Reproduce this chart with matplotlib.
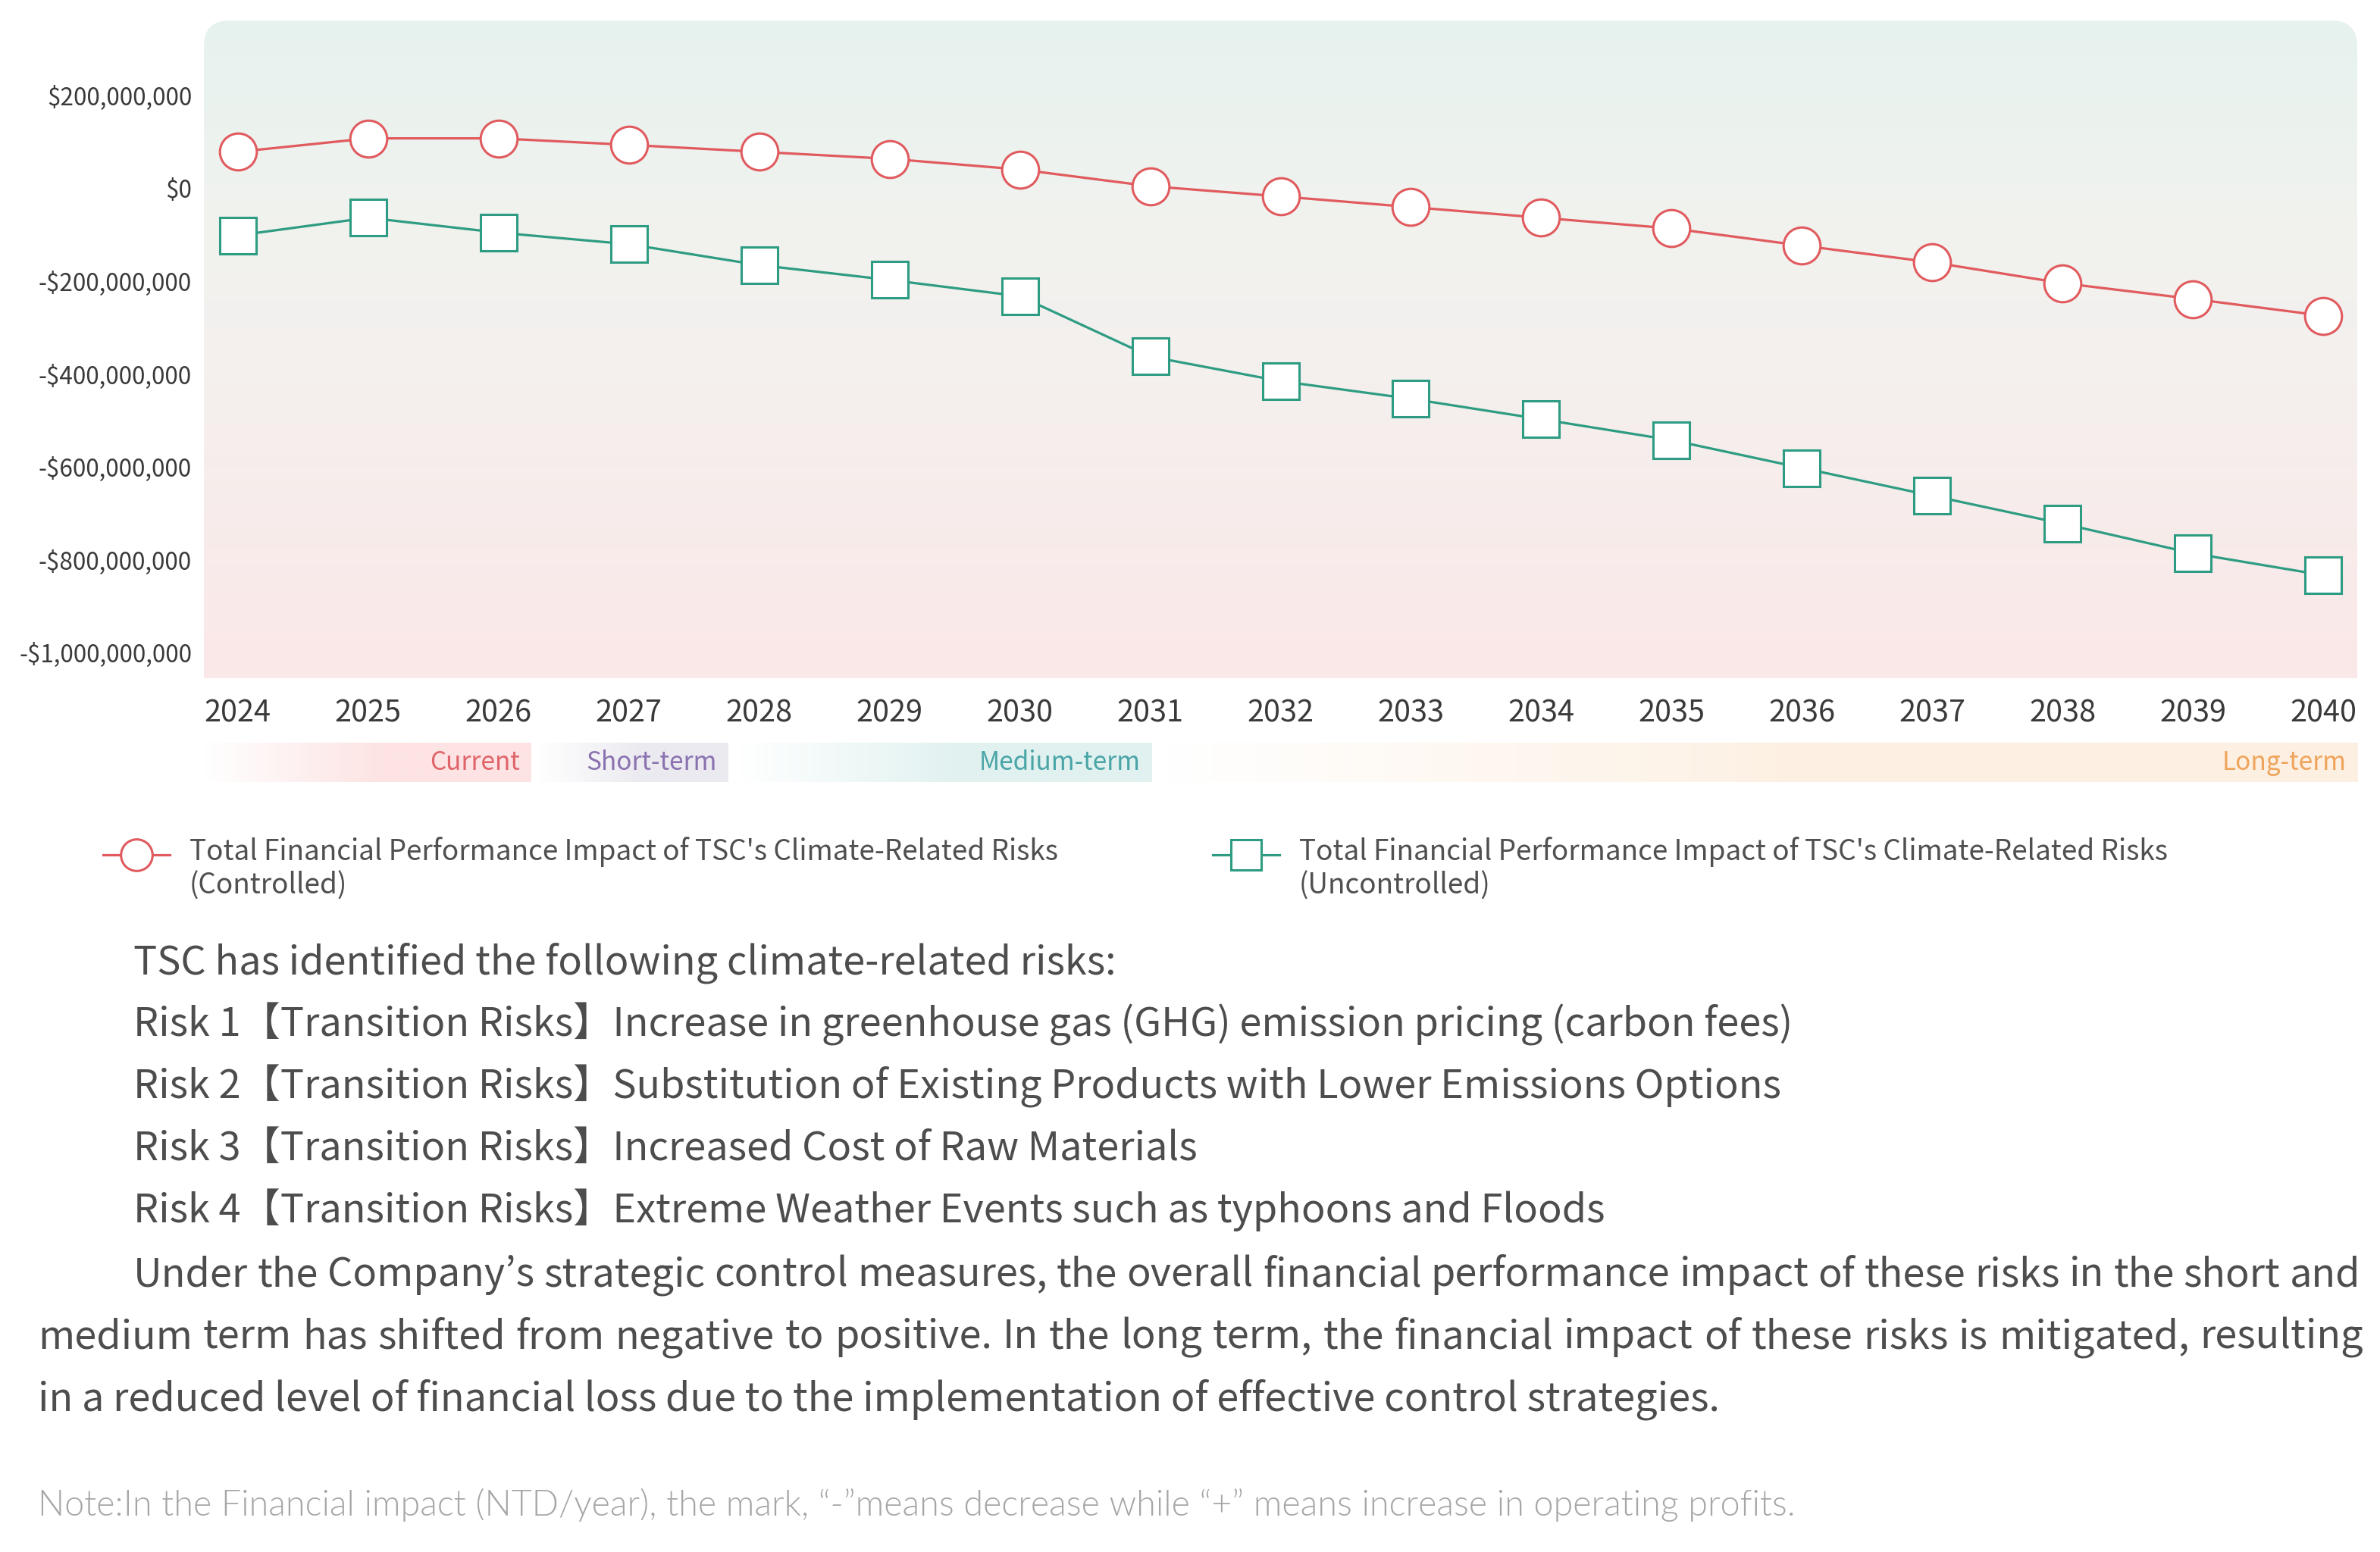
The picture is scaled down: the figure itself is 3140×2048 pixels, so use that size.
import numpy as np
import matplotlib
matplotlib.use("Agg")
import matplotlib.pyplot as plt
from matplotlib.lines import Line2D
from matplotlib.path import Path
from matplotlib.colors import to_rgb, LinearSegmentedColormap
from matplotlib.ticker import FixedLocator, FuncFormatter
from matplotlib.legend_handler import HandlerLine2D

plt.rcParams['font.family'] = ['Noto Sans CJK TC', 'DejaVu Sans']

# ---------------- data ----------------
years = list(range(2024, 2041))
# million NTD per year
controlled = [79, 108, 108, 94, 79, 64, 41, 5, -17, -40, -63, -86, -123, -159, -204, -238, -274]
uncontrolled = [-101, -63, -95, -120, -165, -197, -232, -362, -415, -453, -497, -542, -602, -662, -722, -786, -833]
y_ticks = [200, 0, -200, -400, -600, -800, -1000]
series_labels = [
    "Total Financial Performance Impact of TSC's Climate-Related Risks\n(Controlled)",
    "Total Financial Performance Impact of TSC's Climate-Related Risks\n(Uncontrolled)",
]
phase_names = ["Current", "Short-term", "Medium-term", "Long-term"]
phase_start = [2023.74, 2026.29, 2027.85, 2031.13]
phase_end = [2026.25, 2027.76, 2031.01, 2040.26]

intro = "TSC has identified the following climate-related risks:"
risks = [
    "Risk 1【Transition Risks】Increase in greenhouse gas (GHG) emission pricing (carbon fees)",
    "Risk 2【Transition Risks】Substitution of Existing Products with Lower Emissions Options",
    "Risk 3【Transition Risks】Increased Cost of Raw Materials",
    "Risk 4【Transition Risks】Extreme Weather Events such as typhoons and Floods",
]
paragraph = [
    "Under the Company’s strategic control measures, the overall financial performance impact of these risks in the short and",
    "medium term has shifted from negative to positive. In the long term, the financial impact of these risks is mitigated, resulting",
    "in a reduced level of financial loss due to the implementation of effective control strategies.",
]
note = "Note:In the Financial impact (NTD/year), the mark, “-”means decrease while “+” means increase in operating profits."

# ---------------- style ----------------
RED = '#e05a5e'
GREEN = '#2e9c82'
TICK_C = '#3a3a3a'
BODY_C = '#4d4d4d'
NOTE_C = '#a6a6a6'
phase_fill = ['#fde3e3', '#ebeaf0', '#e0f1f0', '#fdf0e2']
phase_text = ['#e0646a', '#8a72b0', '#4aa5a6', '#efa45c']

W, H = 3140, 2048
fig = plt.figure(figsize=(W / 100, H / 100), dpi=100)
fig.patch.set_facecolor('white')
renderer = fig.canvas.get_renderer()

ax_l, ax_r, ax_t, ax_b = 269, 3110, 27, 895
ax = fig.add_axes([ax_l / W, 1 - ax_b / H, (ax_r - ax_l) / W, (ax_b - ax_t) / H])

# gradient background with rounded top corners
cmap = LinearSegmentedColormap.from_list('bg', [(0, '#fbe8e8'), (0.45, '#f4f0ee'), (0.7, '#f1f2ef'), (1, '#e6f2ee')])
grad = np.linspace(0, 1, 256).reshape(-1, 1)
im = ax.imshow(grad, cmap=cmap, extent=[0, 1, 0, 1], transform=ax.transAxes,
               aspect='auto', origin='lower', zorder=0, interpolation='bicubic')
rx, ry = 34 / (ax_r - ax_l), 34 / (ax_b - ax_t)
verts = [(0, 0), (1, 0), (1, 1 - ry), (1, 1), (1 - rx, 1), (rx, 1), (0, 1), (0, 1 - ry), (0, 0)]
codes = [Path.MOVETO, Path.LINETO, Path.LINETO, Path.CURVE3, Path.CURVE3,
         Path.LINETO, Path.CURVE3, Path.CURVE3, Path.CLOSEPOLY]
im.set_clip_path(Path(verts, codes), transform=ax.transAxes)

yc = np.array(controlled) * 1e6
yu = np.array(uncontrolled) * 1e6
ax.plot(years, yc, color=RED, lw=2.3, marker='o', ms=35, mfc='white', mec=RED, mew=2.2, zorder=3)
ax.plot(years, yu, color=GREEN, lw=2.3, marker='s', ms=34, mfc='white', mec=GREEN, mew=2.2, zorder=3)

ax.set_xlim(2023.74, 2040.26)
ax.set_ylim(-1055e6, 362e6)
ax.xaxis.set_major_locator(FixedLocator(years))
ax.yaxis.set_major_locator(FixedLocator([v * 1e6 for v in y_ticks]))
ax.yaxis.set_major_formatter(FuncFormatter(lambda v, p: ('-' if v < 0 else '') + '${:,.0f}'.format(abs(v))))
ax.tick_params(axis='x', length=0, pad=19, labelsize=28.5, labelcolor=TICK_C)
ax.tick_params(axis='y', length=0, pad=11.5, labelsize=22.6, labelcolor=TICK_C)
for s in ax.spines.values():
    s.set_visible(False)
ax.set_facecolor('none')

# phase bar
pb_t, pb_b = 980, 1032
pax = fig.add_axes([ax_l / W, 1 - pb_b / H, (ax_r - ax_l) / W, (pb_b - pb_t) / H])
pax.axis('off')
for name, s, e, fc, tc in zip(phase_names, phase_start, phase_end, phase_fill, phase_text):
    n = 400
    t = np.clip(np.linspace(0, 1, n) / 0.55, 0, 1)
    c = np.array(to_rgb(fc))
    row = (1 - t)[:, None] * np.ones(3) + t[:, None] * c
    img = np.repeat(row[None, :, :], 2, axis=0)
    pax.imshow(img, extent=[s, e, 0, 1], aspect='auto', interpolation='bilinear', zorder=0)
    pax.text(e - 0.085, 0.5, name, ha='right', va='center', color=tc, fontsize=24)
pax.set_xlim(2023.74, 2040.26)
pax.set_ylim(0, 1)


# legend
class ShiftedHandler(HandlerLine2D):
    def create_artists(self, legend, orig_handle, xdescent, ydescent, width, height, fontsize, trans):
        return super().create_artists(legend, orig_handle, xdescent, ydescent - 30, width, height, fontsize, trans)


handles = [
    Line2D([], [], color=RED, lw=2.3, marker='o', ms=30, mfc='white', mec=RED, mew=2.2),
    Line2D([], [], color=GREEN, lw=2.3, marker='s', ms=29, mfc='white', mec=GREEN, mew=2.2),
]
leg_fs = 26.6
tmp = fig.text(0, 0, series_labels[0].split('\n')[0], fontsize=leg_fs)
w1 = tmp.get_window_extent(renderer).width
tmp.remove()
fs_px = leg_fs * 100 / 72
col_gap = (1600 - (250 + w1)) / fs_px
leg = fig.legend(handles, series_labels, loc='upper left', bbox_to_anchor=(136 / W, 1 - 1104 / H),
                 ncol=2, frameon=False, borderpad=0, borderaxespad=0,
                 handlelength=88 / fs_px, handletextpad=26 / fs_px, columnspacing=col_gap,
                 prop={'size': leg_fs}, labelcolor='#505050',
                 handler_map={Line2D: ShiftedHandler()})

# body text
body_fs = 37.6


def justified(text, x0, x1, yb, **kw):
    words = text.split(' ')
    widths = []
    for w in words:
        tt = fig.text(0, 0, w, **kw)
        widths.append(tt.get_window_extent(renderer).width)
        tt.remove()
    gap = (x1 - x0 - sum(widths)) / (len(words) - 1)
    x = x0
    for w, wd in zip(words, widths):
        fig.text(x / W, 1 - yb / H, w, va='baseline', ha='left', **kw)
        x += wd + gap


kw = dict(fontsize=body_fs, color=BODY_C)
kw_p = dict(fontsize=body_fs, color=BODY_C, family=['Noto Sans CJK KR', 'DejaVu Sans'])
fig.text(176 / W, 1 - 1285 / H, intro, va='baseline', ha='left', **kw)
for i, r in enumerate(risks):
    fig.text(176 / W, 1 - (1367 + 82 * i) / H, r, va='baseline', ha='left', **kw)
justified(paragraph[0], 176, 3114, 1697, **kw_p)
justified(paragraph[1], 50, 3118, 1779, **kw_p)
fig.text(50 / W, 1 - 1861 / H, paragraph[2], va='baseline', ha='left', **kw_p)

# note: Lato Light, sized so it spans the same width as in the layout
note_kw = dict(color=NOTE_C, family=['Lato', 'DejaVu Sans'], fontweight=300)
tmp = fig.text(0, 0, note, fontsize=30, **note_kw)
nw = tmp.get_window_extent(renderer).width
tmp.remove()
note_fs = 30 * (2311 / nw)
fig.text(50 / W, 1 - 2000 / H, note, va='baseline', ha='left', fontsize=note_fs, **note_kw)

fig.savefig('out.png', dpi=100, facecolor='white')
